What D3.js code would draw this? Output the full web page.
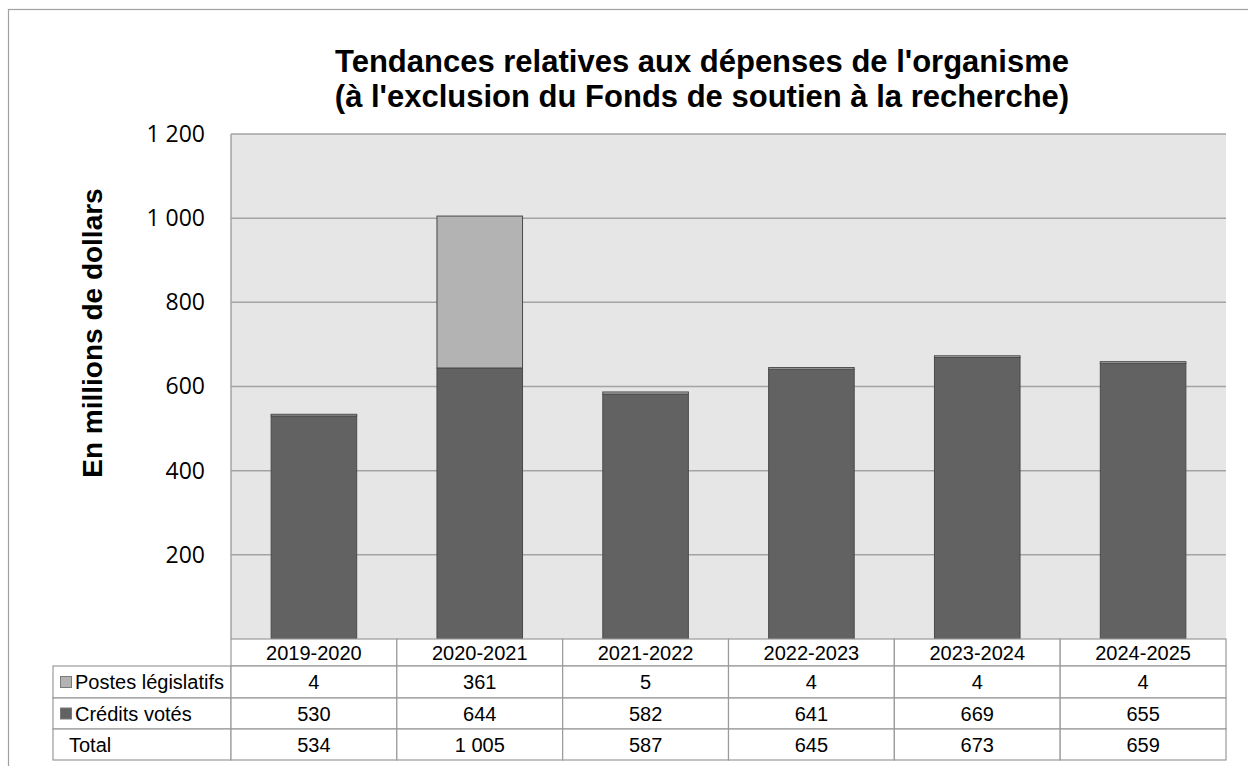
<!DOCTYPE html>
<html>
<head>
<meta charset="utf-8">
<script src="https://cdn.jsdelivr.net/npm/d3@7"></script>
<style>
  body { margin: 0; background: #fff; }
  svg { display: block; }
</style>
</head>
<body>
<div id="chart"></div>
<script>
// Data

var years = ['2019-2020', '2020-2021', '2021-2022', '2022-2023', '2023-2024', '2024-2025'];
var votes = [530, 644, 582, 641, 669, 655];        // Crédits votés
var postes = [4, 361, 5, 4, 4, 4];                 // Postes législatifs
var totals = [534, 1005, 587, 645, 673, 659];
var yTicks = [200, 400, 600, 800, 1000, 1200];
var seriesNames = ['Postes législatifs', 'Crédits votés'];

// Dimensions

var width = 1248, height = 766;
var plot = { left: 231, right: 1226, top: 134, bottom: 639 };
var rowH = [27, 32, 31, 31];   // header, postes, credits, total
var labelLeft = 53;

var fmt = function (v) {
  return d3.format(',')(v).replace(/,/g, ' ');
};

var svg = d3.select('#chart').append('svg')
    .attr('width', width)
    .attr('height', height);

// Outer frame (clipped at right / bottom like the original)
svg.append('rect')
    .attr('x', 8.5).attr('y', 9.5)
    .attr('width', 1260).attr('height', 780)
    .attr('fill', '#fff')
    .attr('stroke', '#a0a0a0')
    .attr('stroke-width', 1.2);

// Scales

var x = d3.scaleBand()
    .domain(years)
    .range([plot.left, plot.right])
    .paddingInner(0.484)
    .paddingOuter(0.242);

var cols = d3.scaleBand()
    .domain(years)
    .range([plot.left, plot.right]);

var y = d3.scaleLinear()
    .domain([0, 1200])
    .range([plot.bottom, plot.top]);

// Plot background

svg.append('rect')
    .attr('x', plot.left).attr('y', plot.top)
    .attr('width', plot.right - plot.left)
    .attr('height', plot.bottom - plot.top)
    .attr('fill', '#e6e6e6');

// Gridlines

svg.append('g')
    .selectAll('line')
    .data(yTicks)
    .enter().append('line')
    .attr('x1', plot.left).attr('x2', plot.right)
    .attr('y1', function (d) { return y(d); })
    .attr('y2', function (d) { return y(d); })
    .attr('stroke', '#a3a3a3')
    .attr('stroke-width', 1.5);

svg.append('line')
    .attr('x1', plot.left).attr('x2', plot.left)
    .attr('y1', plot.top).attr('y2', plot.bottom)
    .attr('stroke', '#a3a3a3')
    .attr('stroke-width', 1.5);

// Y axis labels

var yAxis = d3.axisLeft(y)
    .tickValues(yTicks)
    .tickSize(0)
    .tickPadding(0)
    .tickFormat(fmt);

var ya = svg.append('g')
    .attr('transform', 'translate(205,0)')
    .call(yAxis);
ya.select('.domain').remove();
ya.selectAll('text')
    .attr('font-family', 'Open Sans, Noto Sans, sans-serif')
    .attr('font-size', '23px')
    .attr('fill', '#000');

// Stacked bars

var stackData = years.map(function (yr, i) {
  return { year: yr, votes: votes[i], postes: postes[i] };
});
var stack = d3.stack().keys(['votes', 'postes'])(stackData);
var fills = { votes: '#626262', postes: '#b3b3b3' };

svg.append('g')
    .selectAll('g')
    .data(stack)
    .enter().append('g')
    .attr('fill', function (d) { return fills[d.key]; })
    .selectAll('rect')
    .data(function (d) { return d; })
    .enter().append('rect')
    .attr('x', function (d) { return x(d.data.year); })
    .attr('width', x.bandwidth())
    .attr('y', function (d) { return y(d[1]); })
    .attr('height', function (d) { return y(d[0]) - y(d[1]); })
    .attr('stroke', '#4a4a4a')
    .attr('stroke-width', 1);

// Title

var title = svg.append('text')
    .attr('x', 702)
    .attr('y', 72)
    .attr('text-anchor', 'middle')
    .attr('font-family', 'Liberation Sans, Arial, sans-serif')
    .attr('font-weight', 'bold')
    .attr('font-size', '31px')
    .attr('fill', '#000');
title.append('tspan').attr('x', 702).text("Tendances relatives aux dépenses de l'organisme");
title.append('tspan').attr('x', 702).attr('dy', 35).text("(à l'exclusion du Fonds de soutien à la recherche)");

// Y axis title

svg.append('text')
    .attr('transform', 'translate(102,333) rotate(-90)')
    .attr('text-anchor', 'middle')
    .attr('font-family', 'Liberation Sans, Arial, sans-serif')
    .attr('font-weight', 'bold')
    .attr('font-size', '28px')
    .attr('fill', '#000')
    .text('En millions de dollars');

// Data table

var tableStroke = '#9a9a9a';
var rowTop = [plot.bottom];
rowH.forEach(function (h, i) { rowTop.push(rowTop[i] + h); });

var table = svg.append('g')
    .attr('font-family', 'Liberation Sans, Arial, sans-serif')
    .attr('font-size', '20px')
    .attr('fill', '#000');

// header cells
table.selectAll('.hdr')
    .data(years)
    .enter().append('rect')
    .attr('x', function (d) { return cols(d); })
    .attr('y', rowTop[0])
    .attr('width', cols.bandwidth())
    .attr('height', rowH[0])
    .attr('fill', '#fff')
    .attr('stroke', tableStroke)
    .attr('stroke-width', 1.2);

table.selectAll('.hdrText')
    .data(years)
    .enter().append('text')
    .attr('x', function (d) { return cols(d) + cols.bandwidth() / 2; })
    .attr('y', rowTop[0] + rowH[0] / 2 + 7)
    .attr('text-anchor', 'middle')
    .text(function (d) { return d; });

var rows = [
  { label: seriesNames[0], values: postes, swatch: '#b3b3b3' },
  { label: seriesNames[1], values: votes, swatch: '#626262' },
  { label: 'Total', values: totals, swatch: null }
];

rows.forEach(function (r, ri) {
  var top = rowTop[ri + 1], h = rowH[ri + 1];
  var g = table.append('g');

  g.append('rect')
      .attr('x', labelLeft).attr('y', top)
      .attr('width', plot.left - labelLeft).attr('height', h)
      .attr('fill', '#fff')
      .attr('stroke', tableStroke)
      .attr('stroke-width', 1.2);

  g.selectAll('.cell')
      .data(years)
      .enter().append('rect')
      .attr('x', function (d) { return cols(d); })
      .attr('y', top)
      .attr('width', cols.bandwidth())
      .attr('height', h)
      .attr('fill', '#fff')
      .attr('stroke', tableStroke)
      .attr('stroke-width', 1.2);

  if (r.swatch) {
    g.append('rect')
        .attr('x', 60.5).attr('y', top + h / 2 - 5.5)
        .attr('width', 11).attr('height', 11)
        .attr('fill', r.swatch)
        .attr('stroke', '#7a7a7a')
        .attr('stroke-width', 1);
  }

  g.append('text')
      .attr('x', r.swatch ? 75 : 69)
      .attr('y', top + h / 2 + 7)
      .text(r.label);

  g.selectAll('.val')
      .data(r.values)
      .enter().append('text')
      .attr('x', function (d, i) { return cols(years[i]) + cols.bandwidth() / 2; })
      .attr('y', top + h / 2 + 7)
      .attr('text-anchor', 'middle')
      .text(function (d) { return fmt(d); });
});
</script>
</body>
</html>
